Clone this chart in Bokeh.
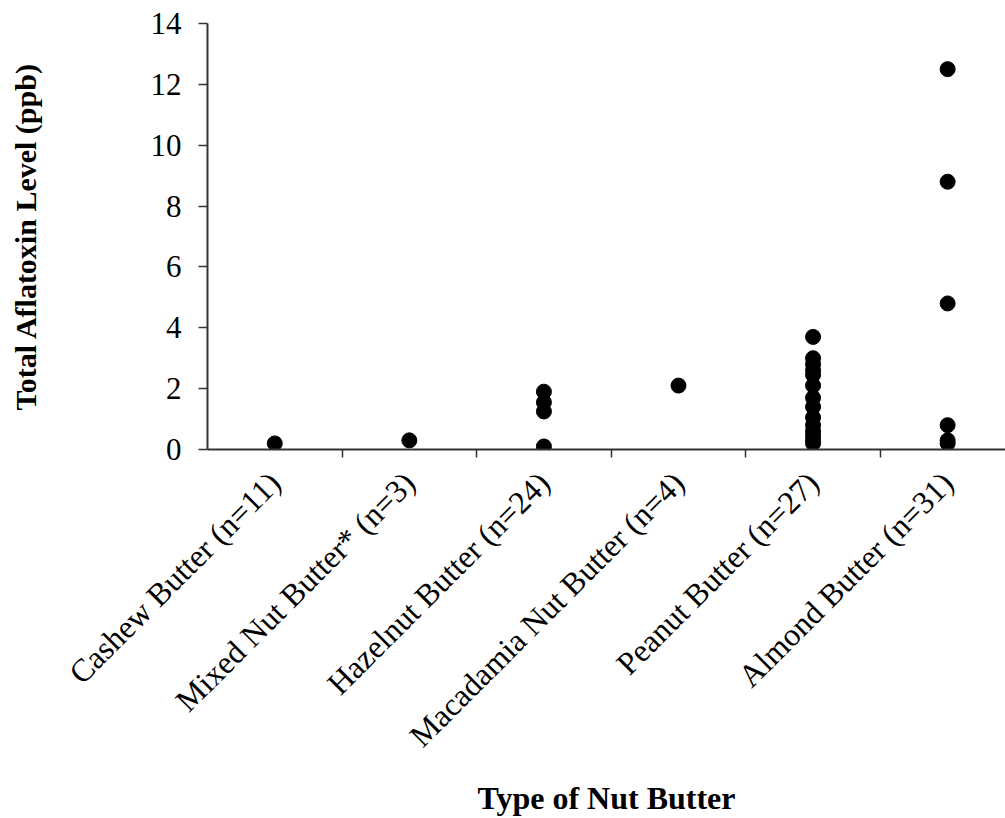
import math
from bokeh.plotting import figure
from bokeh.models import FixedTicker, Range1d, ColumnDataSource
from bokeh.embed import file_html
from bokeh.resources import INLINE

categories = ["Cashew Butter (n=11)", "Mixed Nut Butter* (n=3)", "Hazelnut Butter (n=24)",
              "Macadamia Nut Butter (n=4)", "Peanut Butter (n=27)", "Almond Butter (n=31)"]
cashew = [0.2]
mixed = [0.3]
hazelnut = [1.9, 1.55, 1.25, 0.1]
macadamia = [2.1]
peanut = [3.7, 3.0, 2.8, 2.6, 2.45, 2.1, 1.7, 1.4, 1.05, 0.8, 0.6, 0.45, 0.3, 0.2]
almond = [12.5, 8.8, 4.8, 0.8, 0.3, 0.2]
y_ticks = [0, 2, 4, 6, 8, 10, 12, 14]

series = [cashew, mixed, hazelnut, macadamia, peanut, almond]
xs, ys = [], []
for i, vals in enumerate(series):
    for v in vals:
        xs.append(i + 0.5)
        ys.append(v)
src = ColumnDataSource(data=dict(x=xs, y=ys))

FONT = "Liberation Serif"

p = figure(frame_width=798, frame_height=426, output_backend="svg", toolbar_location=None,
           x_range=Range1d(0, 5.93), y_range=Range1d(0, 14),
           min_border_left=207, min_border_right=0, min_border_top=23, min_border_bottom=369)
p.outline_line_color = None
p.xgrid.visible = False
p.ygrid.visible = False
p.background_fill_color = "white"
p.border_fill_color = "white"

p.scatter("x", "y", source=src, size=15, color="black")

# x axis
xa = p.xaxis[0]
xa.ticker = FixedTicker(ticks=[i + 0.5 for i in range(len(categories))],
                        minor_ticks=[1, 2, 3, 4, 5])
xa.major_label_overrides = {i + 0.5: c for i, c in enumerate(categories)}
xa.major_tick_line_color = None
xa.minor_tick_out = 8
xa.minor_tick_in = 0
xa.minor_tick_line_color = "#333333"
xa.minor_tick_line_width = 1.5
xa.axis_line_color = "#333333"
xa.axis_line_width = 2
xa.major_label_orientation = math.pi / 4
xa.major_label_text_font = FONT
xa.major_label_text_font_size = "32px"
xa.major_label_text_color = "black"
xa.major_label_standoff = 20
xa.axis_label = "Type of Nut Butter"
xa.axis_label_text_font = FONT
xa.axis_label_text_font_style = "bold"
xa.axis_label_text_font_size = "32px"
xa.axis_label_text_color = "black"
xa.axis_label_standoff = 11

# y axis
ya = p.yaxis[0]
ya.ticker = FixedTicker(ticks=y_ticks)
ya.minor_tick_line_color = None
ya.major_tick_out = 9
ya.major_tick_in = 0
ya.major_tick_line_color = "#333333"
ya.major_tick_line_width = 1.5
ya.axis_line_color = "#333333"
ya.axis_line_width = 2
ya.major_label_text_font = FONT
ya.major_label_text_font_size = "31px"
ya.major_label_text_color = "black"
ya.major_label_standoff = 17
ya.axis_label = "Total Aflatoxin Level (ppb)"
ya.axis_label_text_font = FONT
ya.axis_label_text_font_style = "bold"
ya.axis_label_text_font_size = "30px"
ya.axis_label_text_color = "black"
ya.axis_label_standoff = 106

open("out.html", "w").write(file_html(p, INLINE))
